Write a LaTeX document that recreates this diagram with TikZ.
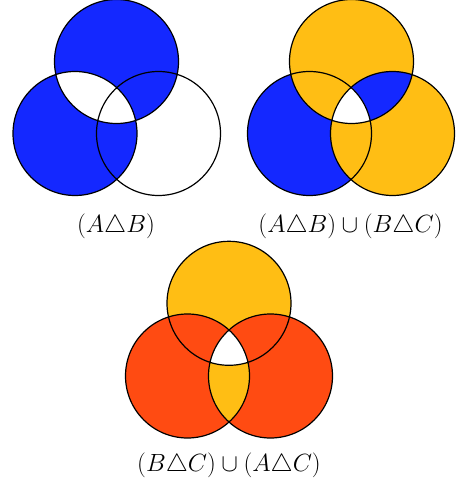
\documentclass[tikz,border=0pt]{standalone}
\usepackage{amssymb}
\definecolor{vblue}{RGB}{20,40,255}
\definecolor{vyellow}{RGB}{255,190,20}
\definecolor{vorange}{RGB}{255,75,18}
\tikzset{
  outline/.style={draw=black,line width=1.2pt},
  lbl/.style={font=\fontsize{24}{28}\selectfont,inner sep=0pt}
}
\begin{document}
\begin{tikzpicture}[x=1pt,y=-1pt]
\useasboundingbox (0,0) rectangle (457,489);
\def\r{62}
% ---------- top-left ----------
\coordinate (A1) at (116.5,61.5);
\coordinate (B1) at (75,133.5);
\coordinate (C1) at (158.5,133.5);
\fill[vblue,even odd rule] (A1) circle (\r) (B1) circle (\r);
\draw[outline] (A1) circle (\r) (B1) circle (\r) (C1) circle (\r);
\node[lbl] (L1) at (116,226) {$(A\triangle B)$};
% ---------- top-right ----------
\coordinate (A2) at (351.5,61.5);
\coordinate (B2) at (309.5,133.5);
\coordinate (C2) at (392.5,133.5);
\fill[vyellow] (A2) circle (\r) (C2) circle (\r);
\fill[vblue] (B2) circle (\r);
\begin{scope}
  \clip (A2) circle (\r);
  \fill[vyellow] (B2) circle (\r);
  \fill[vblue] (C2) circle (\r);
\end{scope}
\begin{scope}
  \clip (C2) circle (\r);
  \fill[vyellow] (B2) circle (\r);
\end{scope}
\begin{scope}
  \clip (A2) circle (\r);
  \clip (B2) circle (\r);
  \fill[white] (C2) circle (\r);
\end{scope}
\draw[outline] (A2) circle (\r) (B2) circle (\r) (C2) circle (\r);
\node[lbl] (L2) at (350.5,226) {$(A\triangle B)\cup(B\triangle C)$};
% ---------- bottom ----------
\coordinate (A3) at (229,303.3);
\coordinate (B3) at (187.5,376);
\coordinate (C3) at (270.5,376);
\fill[vorange] (B3) circle (\r) (C3) circle (\r);
\fill[vyellow] (A3) circle (\r);
\begin{scope}
  \clip (A3) circle (\r);
  \fill[vorange] (B3) circle (\r);
  \fill[vorange] (C3) circle (\r);
\end{scope}
\begin{scope}
  \clip (B3) circle (\r);
  \fill[vyellow] (C3) circle (\r);
\end{scope}
\begin{scope}
  \clip (A3) circle (\r);
  \clip (B3) circle (\r);
  \fill[white] (C3) circle (\r);
\end{scope}
\draw[outline] (A3) circle (\r) (B3) circle (\r) (C3) circle (\r);
\node[lbl] (L3) at (229,465) {$(B\triangle C)\cup(A\triangle C)$};
\end{tikzpicture}
\end{document}
